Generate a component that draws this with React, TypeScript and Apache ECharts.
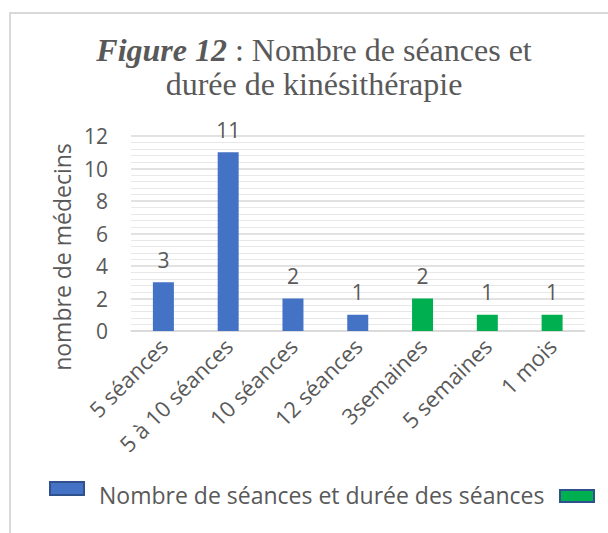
import React, { useEffect, useRef } from "react";
import * as echarts from "echarts";

const categories = ["5 séances", "5 à 10 séances", "10 séances", "12 séances", "3semaines", "5 semaines", "1 mois"];
const seancesValues = [3, 11, 2, 1, null, null, null];
const dureeValues = [null, null, null, null, 2, 1, 1];
const seriesNameBlue = "Nombre de séances et durée des séances";
const seriesNameGreen = " ";
const yTicks = { min: 0, max: 12, interval: 2 };

const SANS = "'Open Sans', 'Noto Sans', sans-serif";
const SERIF = "'Liberation Serif', 'Times New Roman', serif";
const GREY = "#595959";

export default function App() {
  const ref = useRef<HTMLDivElement>(null);
  useEffect(() => {
    if (!ref.current) return;
    const chart = echarts.init(ref.current, null, { renderer: "svg" });
    const labelStyle = {
      show: true,
      position: "top" as const,
      distance: 12,
      color: GREY,
      fontFamily: SANS,
      fontSize: 21,
    };
    chart.setOption({
      animation: false,
      backgroundColor: "#ffffff",
      graphic: [
        {
          type: "rect",
          shape: { x: 10, y: 13, width: 640, height: 560 },
          style: { fill: "none", stroke: "#D9D9D9", lineWidth: 2 },
          silent: true,
        },
      ],
      title: {
        text: "{b|Figure 12} : Nombre de séances et\ndurée de kinésithérapie",
        left: 309,
        top: 28,
        textAlign: "center",
        textStyle: {
          fontFamily: SERIF,
          fontSize: 32,
          fontWeight: "normal",
          color: GREY,
          lineHeight: 34,
          rich: {
            b: {
              fontFamily: SERIF,
              fontSize: 32,
              fontWeight: "bold",
              fontStyle: "italic",
              color: GREY,
              lineHeight: 34,
            },
          },
        },
      },
      legend: [
        {
          left: 49,
          top: 481,
          padding: 0,
          itemWidth: 34,
          itemHeight: 13,
          icon: "rect",
          formatter: () => "",
          data: [
            {
              name: seriesNameBlue,
              itemStyle: { color: "#4472C4", borderColor: "#2F528F", borderWidth: 2 },
            },
          ],
          textStyle: { fontSize: 1 },
        },
        {
          left: 93,
          top: 481,
          padding: 0,
          itemWidth: 1,
          itemHeight: 1,
          icon: "rect",
          data: [
            {
              name: seriesNameBlue,
              itemStyle: { opacity: 0 },
            },
          ],
          textStyle: {
            color: GREY,
            fontFamily: SANS,
            fontSize: 23,
            lineHeight: 28,
          },
        },
        {
          left: 559,
          top: 489,
          padding: 0,
          itemWidth: 34,
          itemHeight: 12,
          icon: "rect",
          data: [
            {
              name: seriesNameGreen,
              itemStyle: { color: "#00B050", borderColor: "#2F528F", borderWidth: 2 },
            },
          ],
          textStyle: { color: GREY, fontFamily: SANS, fontSize: 1 },
        },
      ],
      grid: { left: 131, right: 23.5, top: 136, bottom: 202, containLabel: false },
      xAxis: {
        type: "category",
        data: categories,
        axisLine: { show: true, lineStyle: { color: "#D9D9D9", width: 1.5 } },
        axisTick: { show: false },
        axisLabel: {
          interval: 0,
          rotate: 45,
          margin: 11,
          color: GREY,
          fontFamily: SANS,
          fontSize: 22,
        },
      },
      yAxis: {
        type: "value",
        min: yTicks.min,
        max: yTicks.max,
        interval: yTicks.interval,
        name: "nombre de médecins",
        nameLocation: "middle",
        nameRotate: 90,
        nameGap: 54,
        nameTextStyle: {
          color: GREY,
          fontFamily: SANS,
          fontSize: 23,
          padding: [0, 47, 0, 0],
        },
        axisLine: { show: false },
        axisTick: { show: false },
        axisLabel: {
          margin: 23,
          color: GREY,
          fontFamily: SANS,
          fontSize: 21,
        },
        splitLine: { show: true, lineStyle: { color: "#D9D9D9", width: 1.5 } },
        minorTick: { show: false, splitNumber: 5 },
        minorSplitLine: { show: true, lineStyle: { color: "#E8E8E8", width: 1.2 } },
      },
      series: [
        {
          name: seriesNameBlue,
          type: "bar",
          data: seancesValues,
          barWidth: 21,
          barGap: "-100%",
          itemStyle: { color: "#4472C4" },
          label: labelStyle,
        },
        {
          name: seriesNameGreen,
          type: "bar",
          data: dureeValues,
          barWidth: 21,
          barGap: "-100%",
          itemStyle: { color: "#00B050" },
          label: labelStyle,
        },
      ],
    });
    return () => chart.dispose();
  }, []);
  return (
    <div
      ref={ref}
      style={{ position: "absolute", left: 0, top: 0, width: 608, height: 533 }}
    />
  );
}
